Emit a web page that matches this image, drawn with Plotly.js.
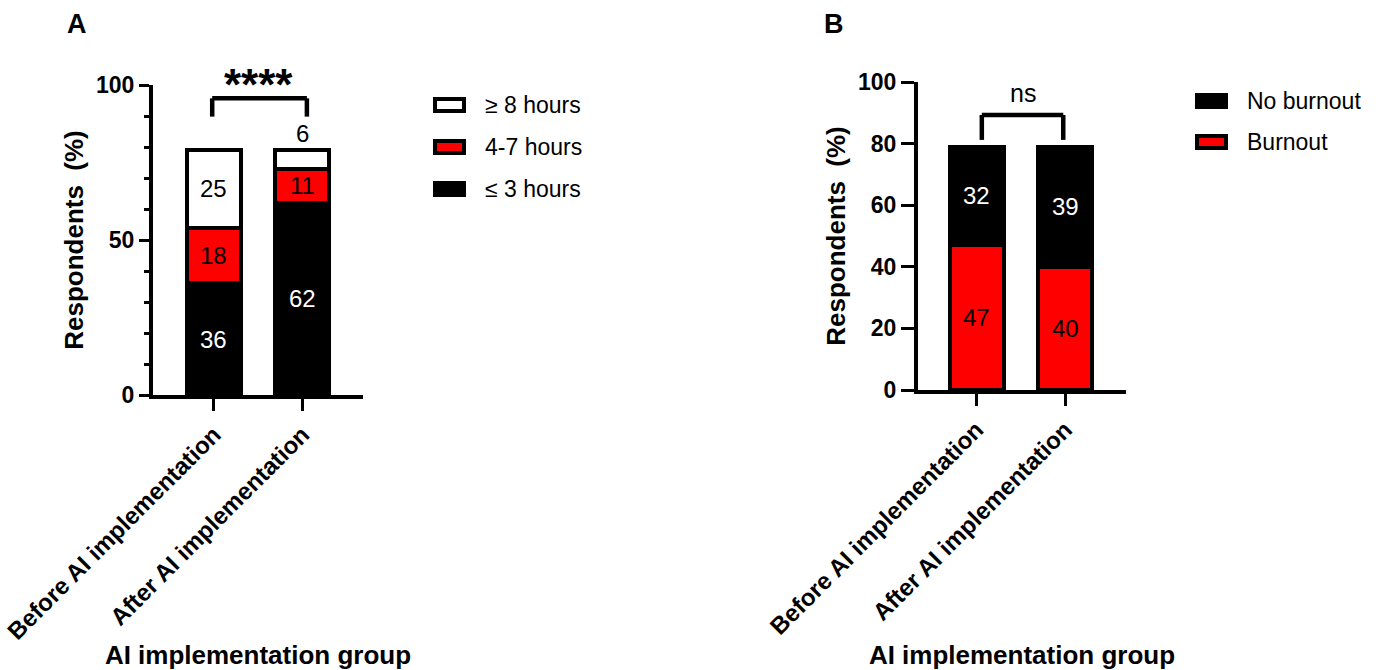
<!DOCTYPE html>
<html>
<head>
<meta charset="utf-8">
<script src="https://cdn.plot.ly/plotly-3.0.1.min.js"></script>
<style>html,body{margin:0;padding:0;background:#fff;}#chart{width:1378px;height:670px;}</style>
</head>
<body>
<div id="chart"></div>
<script>
// ---- data ----
const groups = ['Before AI implementation', 'After AI implementation'];
const hoursNames = ['\u2264 3 hours', '4-7 hours', '\u2265 8 hours'];
const hoursLow = [36, 62];
const hoursMid = [18, 11];
const hoursHigh = [25, 6];
const burnoutNames = ['Burnout', 'No burnout'];
const burnout = [47, 40];
const noBurnout = [32, 39];
const sigA = '****';
const sigB = 'ns';
const yTicksA = [0, 50, 100];
const yTicksB = [0, 20, 40, 60, 80, 100];

// ---- helpers ----
const W = 1378, H = 670;
const fx = p => p / W;
const fy = p => 1 - p / H;
const FONT = 'Arial, "Liberation Sans", Helvetica, sans-serif';
const BLACK = '#000000', RED = '#ff0000', WHITE = '#ffffff';
const BW = 0.61;

function barTrace(y, name, color, xa, ya) {
  return {
    type: 'bar', x: groups, y: y, name: name, width: BW,
    marker: {color: color, line: {color: BLACK, width: 4}},
    xaxis: xa, yaxis: ya, showlegend: false, hoverinfo: 'y+name'
  };
}

const traces = [
  barTrace(hoursLow, hoursNames[0], BLACK, 'x', 'y'),
  barTrace(hoursMid, hoursNames[1], RED, 'x', 'y'),
  barTrace(hoursHigh, hoursNames[2], WHITE, 'x', 'y'),
  barTrace(burnout, burnoutNames[0], RED, 'x2', 'y2'),
  barTrace(noBurnout, burnoutNames[1], BLACK, 'x2', 'y2')
];

// segment value labels computed from the data
const annotations = [];
function addLabels(stacks, textColors, xr, yr, outsideSmall) {
  groups.forEach((g, gi) => {
    let base = 0;
    stacks.forEach((s, si) => {
      const v = s[gi];
      const total = stacks.reduce((a, st) => a + st[gi], 0);
      if (outsideSmall && v < 8) {
        annotations.push({x: g, y: total, xref: xr, yref: yr, text: String(v), showarrow: false,
          yanchor: 'bottom', yshift: 1, font: {family: FONT, size: 24, color: BLACK}});
      } else {
        annotations.push({x: g, y: base + v / 2, xref: xr, yref: yr, text: String(v), showarrow: false,
          font: {family: FONT, size: 24, color: textColors[si]}});
      }
      base += v;
    });
  });
}
addLabels([hoursLow, hoursMid, hoursHigh], [WHITE, BLACK, BLACK], 'x', 'y', true);
addLabels([burnout, noBurnout], [BLACK, WHITE], 'x2', 'y2', false);

// significance texts
annotations.push({x: 0.5, y: 1.003, xref: 'x', yref: 'y domain', text: sigA, showarrow: false,
  xanchor: 'center', yanchor: 'middle',
  font: {family: FONT, size: 44, weight: 'bold', color: BLACK}});
annotations.push({x: 0.52, y: 96.5, xref: 'x2', yref: 'y2', text: sigB, showarrow: false,
  font: {family: FONT, size: 25, color: BLACK}});

// panel letters
annotations.push({x: fx(77), y: fy(24), xref: 'paper', yref: 'paper', text: 'A', showarrow: false,
  xanchor: 'center', yanchor: 'middle',
  font: {family: FONT, size: 27, weight: 'bold', color: BLACK}});
annotations.push({x: fx(834), y: fy(24), xref: 'paper', yref: 'paper', text: 'B', showarrow: false,
  xanchor: 'center', yanchor: 'middle',
  font: {family: FONT, size: 27, weight: 'bold', color: BLACK}});

// legends (drawn as swatches + text)
const shapes = [];
function legendItem(xBox, yc, fill, label) {
  shapes.push({type: 'rect', xref: 'paper', yref: 'paper',
    x0: fx(xBox + 2), x1: fx(xBox + 31), y0: fy(yc - 6), y1: fy(yc + 6),
    fillcolor: fill, line: {color: BLACK, width: 4}});
  annotations.push({x: fx(xBox + 50), y: fy(yc), xref: 'paper', yref: 'paper', text: label,
    showarrow: false, xanchor: 'left', yanchor: 'middle',
    font: {family: FONT, size: 23, color: BLACK}});
}
legendItem(433, 105, WHITE, hoursNames[2]);
legendItem(433, 147, RED, hoursNames[1]);
legendItem(433, 189, BLACK, hoursNames[0]);
legendItem(1195, 101, BLACK, burnoutNames[1]);
legendItem(1195, 142, RED, burnoutNames[0]);

// significance brackets
function bracket(xr, yr, xa, xb, yt, yb) {
  const ln = {color: BLACK, width: 4.5};
  shapes.push({type: 'line', xref: xr, yref: yr, x0: xa, x1: xb, y0: yt, y1: yt, line: ln});
  shapes.push({type: 'line', xref: xr, yref: yr, x0: xa, x1: xa, y0: yt, y1: yb, line: ln});
  shapes.push({type: 'line', xref: xr, yref: yr, x0: xb, x1: xb, y0: yt, y1: yb, line: ln});
}
bracket('x', 'y', -0.02, 1.05, 95.7, 89.8);
bracket('x2', 'y2', 0.06, 0.98, 89.3, 81.2);

const tickFontX = {family: FONT, size: 24, weight: 'bold', color: BLACK};
const tickFontY = {family: FONT, size: 23, weight: 'bold', color: BLACK};
const titleFont = {family: FONT, size: 26, weight: 'bold', color: BLACK};

function xAxis(domain, range, anchor, standoff) {
  return {
    domain: domain, range: range, type: 'category', anchor: anchor,
    showline: true, linewidth: 4, linecolor: BLACK, mirror: false,
    ticks: 'outside', ticklen: 12, tickwidth: 3, tickcolor: BLACK,
    tickangle: -45, tickfont: tickFontX, showgrid: false, zeroline: false,
    title: {text: 'AI implementation group', font: titleFont, standoff: standoff},
    fixedrange: true
  };
}
function yAxis(domain, tickvals, ticklen, minor, anchor) {
  const a = {
    domain: domain, range: [0, 100], anchor: anchor, tickmode: 'array', tickvals: tickvals,
    showline: true, linewidth: 4, linecolor: BLACK,
    ticks: 'outside', ticklen: ticklen, tickwidth: 3, tickcolor: BLACK,
    tickfont: tickFontY, showgrid: false, zeroline: false,
    title: {text: 'Respondents\u00a0 (%)', font: titleFont, standoff: 6},
    fixedrange: true
  };
  if (minor) a.minor = {dtick: 10, ticks: 'outside', ticklen: 5, tickwidth: 3, tickcolor: BLACK, showgrid: false};
  return a;
}

const layout = {
  width: W, height: H, margin: {l: 0, r: 0, t: 0, b: 0},
  paper_bgcolor: WHITE, plot_bgcolor: WHITE,
  barmode: 'stack', showlegend: false,
  font: {family: FONT, color: BLACK},
  xaxis: xAxis([fx(153), fx(363)], [-0.689, 1.684], 'y', 15),
  yaxis: yAxis([fy(395), fy(85)], yTicksA, 10, true, 'x'),
  xaxis2: xAxis([fx(918), fx(1126)], [-0.661, 1.689], 'y2', 8),
  yaxis2: yAxis([fy(390), fy(82)], yTicksB, 13, false, 'x2'),
  annotations: annotations,
  shapes: shapes
};

Plotly.newPlot('chart', traces, layout, {staticPlot: true, displayModeBar: false});
</script>
</body>
</html>
